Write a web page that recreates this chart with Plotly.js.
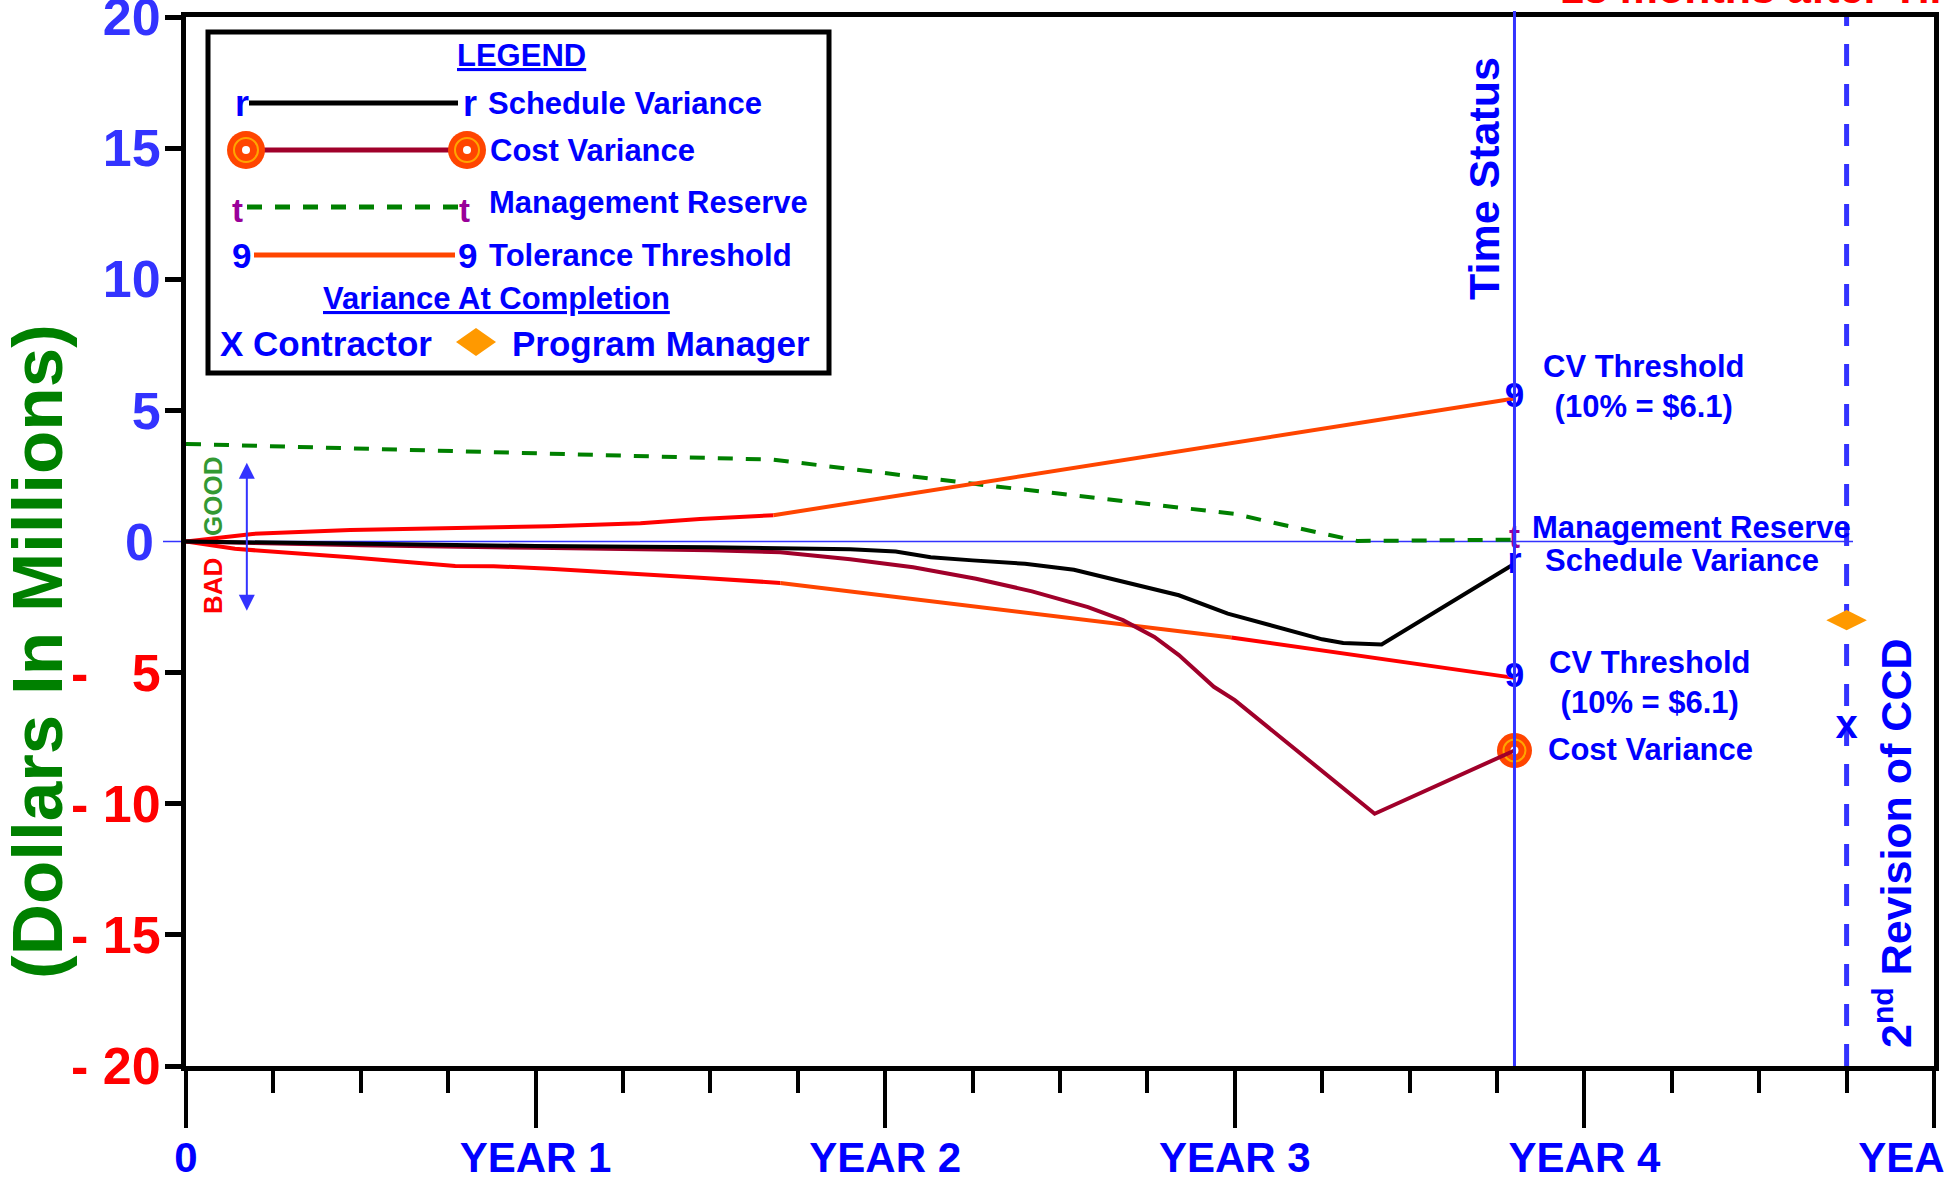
<!DOCTYPE html>
<html>
<head>
<meta charset="utf-8">
<script src="https://cdn.plot.ly/plotly-3.0.1.min.js"></script>
<style>
  html, body { margin: 0; padding: 0; background: #ffffff; }
  #chart { width: 1944px; height: 1178px; }
</style>
</head>
<body>
<div id="chart"></div>
<script>
// ---- Axis ticks (time in years, dollars in millions) ----
const YEAR_TICKS = [0, 1, 2, 3, 4, 5];
const YEAR_LABELS = ['0', 'YEAR 1', 'YEAR 2', 'YEAR 3', 'YEAR 4', 'YEAR 5'];
const DOLLAR_TICKS = [-20, -15, -10, -5, 5, 10, 15, 20];

// ---- Schedule Variance ----
const SV_T = [0, 0.5, 1.0, 1.5, 1.9, 2.03, 2.13, 2.25, 2.4, 2.54, 2.68, 2.84, 2.98, 3.06, 3.2, 3.25, 3.31, 3.42, 3.8];
const SV_V = [0, -0.1, -0.17, -0.22, -0.3, -0.38, -0.6, -0.72, -0.85, -1.08, -1.55, -2.05, -2.75, -3.04, -3.51, -3.73, -3.87, -3.93, -0.85];

// ---- Cost Variance ----
const CV_T = [0, 0.5, 1.0, 1.5, 1.7, 1.9, 2.08, 2.26, 2.42, 2.58, 2.68, 2.77, 2.84, 2.94, 3.0, 3.4, 3.8];
const CV_V = [0, -0.14, -0.24, -0.33, -0.41, -0.68, -0.98, -1.42, -1.9, -2.5, -3.0, -3.64, -4.33, -5.54, -6.05, -10.38, -7.97];

// ---- Management Reserve ----
const MR_T = [0, 1.04, 1.68, 2.26, 3.0, 3.15, 3.35, 3.8];
const MR_V = [3.72, 3.33, 3.12, 2.19, 1.05, 0.6, 0.02, 0.07];

// ---- Tolerance thresholds (upper and lower, drawn in coloured pieces) ----
const TOL_UP_A_T = [0, 0.19, 0.47, 0.76, 1.04, 1.3, 1.47, 1.68];
const TOL_UP_A_V = [0, 0.29, 0.44, 0.53, 0.58, 0.7, 0.86, 1.0];
const TOL_UP_B_T = [1.68, 3.8];
const TOL_UP_B_V = [1.0, 5.45];

const TOL_LO_A_T = [0, 0.14, 0.47, 0.77, 0.88, 1.04, 1.47, 1.70];
const TOL_LO_A_V = [0, -0.28, -0.6, -0.93, -0.94, -1.04, -1.38, -1.58];
const TOL_LO_B_T = [1.70, 2.99];
const TOL_LO_B_V = [-1.58, -3.66];
const TOL_LO_C_T = [2.99, 3.8];
const TOL_LO_C_V = [-3.66, -5.2];

// ---- Status dates and variance-at-completion estimates ----
const TIME_STATUS = 3.8;
const REVISION = 4.75;
const VAC_CONTRACTOR = -7.1;
const VAC_PROGRAM_MANAGER = -3.0;

// ---- Styling ----
const FAM = 'Liberation Sans, Arial, Helvetica, sans-serif';
const BLUE = '#0000FF';
const LIGHT_BLUE = '#3333FF';
const RED = '#FF0000';
const ORANGE_RED = '#FF4500';
const DARK_RED = '#A0002A';
const GREEN = '#008000';
const PURPLE = '#990099';
const GOLD = '#FF9900';

// Plot-area geometry in page pixels, used to place the decorations
const L = 186, T = 17, W = 1748, H = 1049;
const PX = x => (x - L) / W;
const PY = y => (T + H - y) / H;
const font = (size, color) => ({ family: FAM, size: size, color: color, weight: 'bold' });

const last = a => a[a.length - 1];

const dollarText = DOLLAR_TICKS.map(v => v > 0
  ? '<span style="color:' + LIGHT_BLUE + '">' + v + '</span>'
  : '<span style="color:' + RED + '">-\u00a0' + (Math.abs(v) < 10 ? '\u2007' : '') + Math.abs(v) + '</span>');

function line(x, y, color, width, dash) {
  return { x: x, y: y, type: 'scatter', mode: 'lines', hoverinfo: 'skip',
           line: { color: color, width: width, dash: dash || 'solid' } };
}
function glyph(x, y, text, size, color) {
  return { x: x, y: y, text: text, type: 'scatter', mode: 'text', hoverinfo: 'skip',
           textposition: 'middle center', textfont: font(size, color), cliponaxis: false };
}

const traces = [
  line(MR_T, MR_V, GREEN, 4, '15px,13px'),
  line(TOL_UP_A_T, TOL_UP_A_V, RED, 4),
  line(TOL_UP_B_T, TOL_UP_B_V, ORANGE_RED, 4),
  line(TOL_LO_A_T, TOL_LO_A_V, RED, 4),
  line(TOL_LO_B_T, TOL_LO_B_V, ORANGE_RED, 4),
  line(TOL_LO_C_T, TOL_LO_C_V, RED, 4),
  // cost variance end marker (concentric circles)
  { x: [last(CV_T)], y: [last(CV_V)], type: 'scatter', mode: 'markers', hoverinfo: 'skip',
    marker: { symbol: 'circle', size: 35, color: ORANGE_RED, line: { width: 0 } } },
  { x: [last(CV_T)], y: [last(CV_V)], type: 'scatter', mode: 'markers', hoverinfo: 'skip',
    marker: { symbol: 'circle-open', size: 22, color: '#FFA500', line: { width: 2, color: '#FFA500' } } },
  { x: [last(CV_T)], y: [last(CV_V)], type: 'scatter', mode: 'markers', hoverinfo: 'skip',
    marker: { symbol: 'circle', size: 8, color: '#FFFFFF', line: { width: 0 } } },
  line(CV_T, CV_V, DARK_RED, 4),
  line(SV_T, SV_V, '#000000', 4),
  // end-of-line glyphs at the time status
  glyph([last(TOL_UP_B_T), last(TOL_LO_C_T)], [last(TOL_UP_B_V), last(TOL_LO_C_V)], ['9', '9'], 35, BLUE),
  glyph([last(SV_T)], [last(SV_V)], ['r'], 36, BLUE),
  glyph([last(MR_T)], [last(MR_V)], ['t'], 33, PURPLE),
  // variance at completion estimates
  glyph([REVISION], [VAC_CONTRACTOR], ['x'], 40, BLUE),
  { x: [REVISION], y: [VAC_PROGRAM_MANAGER], type: 'scatter', mode: 'markers', hoverinfo: 'skip',
    marker: { symbol: 'diamond-wide', size: 29, color: GOLD, line: { width: 0 } }, cliponaxis: false }
];

const shapes = [
  // zero reference line
  { type: 'line', xref: 'paper', yref: 'y', x0: PX(163), x1: PX(1853), y0: 0, y1: 0,
    line: { color: LIGHT_BLUE, width: 1.5 }, layer: 'below' },
  // revision of CCD
  { type: 'line', xref: 'x', yref: 'paper', x0: REVISION, x1: REVISION, y0: 0, y1: PY(16),
    line: { color: LIGHT_BLUE, width: 5, dash: '22px,18px' }, layer: 'below' },
  // time status
  { type: 'line', xref: 'x', yref: 'paper', x0: TIME_STATUS, x1: TIME_STATUS, y0: 0, y1: PY(11),
    line: { color: LIGHT_BLUE, width: 3 }, layer: 'above' },
  // legend frame
  { type: 'rect', xref: 'paper', yref: 'paper', x0: PX(208), x1: PX(829), y0: PY(373), y1: PY(32),
    line: { color: '#000000', width: 5 }, fillcolor: '#FFFFFF', layer: 'above' },
  // legend keys
  { type: 'line', xref: 'paper', yref: 'paper', x0: PX(249), x1: PX(458), y0: PY(103), y1: PY(103),
    line: { color: '#000000', width: 5 }, layer: 'above' },
  { type: 'line', xref: 'paper', yref: 'paper', x0: PX(246), x1: PX(467), y0: PY(150), y1: PY(150),
    line: { color: DARK_RED, width: 5 }, layer: 'above' },
  { type: 'line', xref: 'paper', yref: 'paper', x0: PX(247), x1: PX(458), y0: PY(207), y1: PY(207),
    line: { color: GREEN, width: 5, dash: '15px,13px' }, layer: 'above' },
  { type: 'line', xref: 'paper', yref: 'paper', x0: PX(254), x1: PX(455), y0: PY(255), y1: PY(255),
    line: { color: ORANGE_RED, width: 5 }, layer: 'above' }
];
[246, 467].forEach(cx => {
  shapes.push({ type: 'circle', xref: 'paper', yref: 'paper', x0: PX(cx - 19), x1: PX(cx + 19),
    y0: PY(150 + 19), y1: PY(150 - 19), fillcolor: ORANGE_RED, line: { width: 0 }, layer: 'above' });
  shapes.push({ type: 'circle', xref: 'paper', yref: 'paper', x0: PX(cx - 12), x1: PX(cx + 12),
    y0: PY(150 + 12), y1: PY(150 - 12), line: { color: '#FFA500', width: 2 }, layer: 'above' });
  shapes.push({ type: 'circle', xref: 'paper', yref: 'paper', x0: PX(cx - 4), x1: PX(cx + 4),
    y0: PY(150 + 4), y1: PY(150 - 4), fillcolor: '#FFFFFF', line: { width: 0 }, layer: 'above' });
});
// legend diamond
shapes.push({ type: 'path', xref: 'paper', yref: 'paper', layer: 'above', fillcolor: GOLD, line: { width: 0 },
  path: 'M' + PX(456) + ',' + PY(342) + 'L' + PX(476) + ',' + PY(328) + 'L' + PX(496) + ',' + PY(342) +
        'L' + PX(476) + ',' + PY(356) + 'Z' });

function note(text, x, y, size, color, extra) {
  return Object.assign({ xref: 'paper', yref: 'paper', x: PX(x), y: PY(y), text: text, showarrow: false,
    font: font(size, color), xanchor: 'center', yanchor: 'middle', align: 'center' }, extra || {});
}

const annotations = [
  note('(Dollars In Millions)', 37, 652, 71, GREEN, { textangle: -90 }),
  { xref: 'paper', yref: 'y', x: PX(156), y: 0, text: '0', showarrow: false, xanchor: 'right', yanchor: 'middle',
    font: font(52, LIGHT_BLUE) },
  // legend
  note('<u>LEGEND</u>', 521, 55, 31, BLUE),
  note('r', 242, 103, 36, BLUE), note('r', 470, 103, 36, BLUE),
  note('Schedule Variance', 486, 103, 31, BLUE, { xanchor: 'left' }),
  note('Cost Variance', 488, 150, 31, BLUE, { xanchor: 'left' }),
  note('t', 237, 210, 33, PURPLE), note('t', 464, 210, 33, PURPLE),
  note('Management Reserve', 487, 203, 31, BLUE, { xanchor: 'left' }),
  note('9', 241, 255, 35, BLUE), note('9', 467, 255, 35, BLUE),
  note('Tolerance Threshold', 487, 255, 31, BLUE, { xanchor: 'left' }),
  note('<u>Variance At Completion</u>', 496, 298, 31, BLUE),
  note('X Contractor', 218, 343, 35, BLUE, { xanchor: 'left' }),
  note('Program Manager', 510, 343, 35, BLUE, { xanchor: 'left' }),
  // right-hand labels
  note('Time Status', 1484, 179, 43, BLUE, { textangle: -90 }),
  note('CV Threshold<br>(10% = $6.1)', 1644, 386, 31, BLUE),
  note('Management Reserve', 1530, 527, 31, BLUE, { xanchor: 'left' }),
  note('Schedule Variance', 1543, 560, 31, BLUE, { xanchor: 'left' }),
  note('CV Threshold<br>(10% = $6.1)', 1650, 682, 31, BLUE),
  note('Cost Variance', 1546, 749, 31, BLUE, { xanchor: 'left' }),
  note('2<sup>nd</sup> Revision of CCD', 1893, 843, 43, BLUE, { textangle: -90 }),
  note('18 months after Time Status', 1558, 14, 43, RED, { xanchor: 'left', yanchor: 'bottom' }),
  // good / bad direction
  note('GOOD', 213, 497, 26, '#339933', { textangle: -90 }),
  note('BAD', 213, 586, 26, RED, { textangle: -90 }),
  { xref: 'x', yref: 'y', axref: 'x', ayref: 'y', x: 0.174, y: 3.0, ax: 0.174, ay: -2.7, text: '',
    showarrow: true, arrowside: 'end+start', arrowhead: 2, startarrowhead: 2, arrowwidth: 2,
    arrowsize: 1.6, startarrowsize: 1.6, arrowcolor: LIGHT_BLUE, standoff: 0, startstandoff: 0 }
];

const layout = {
  width: 1944, height: 1178,
  margin: { l: L, r: 1944 - L - W, t: T, b: 1178 - T - H, pad: 0 },
  paper_bgcolor: '#FFFFFF', plot_bgcolor: '#FFFFFF',
  showlegend: false, hovermode: false,
  font: { family: FAM },
  xaxis: {
    range: [0, 5], tickmode: 'array', tickvals: YEAR_TICKS, ticktext: YEAR_LABELS,
    ticks: 'outside', ticklen: 57, tickwidth: 4, tickcolor: '#000000',
    tickfont: font(42, BLUE), ticklabelstandoff: -6, ticklabeloverflow: 'allow',
    showline: true, linewidth: 5, linecolor: '#000000', mirror: true,
    showgrid: false, zeroline: false, fixedrange: true,
    minor: { tickmode: 'linear', tick0: 0, dtick: 0.25, ticks: 'outside', ticklen: 22,
             tickwidth: 4, tickcolor: '#000000', showgrid: false }
  },
  yaxis: {
    range: [-20, 20], tickmode: 'array', tickvals: DOLLAR_TICKS, ticktext: dollarText,
    ticks: 'outside', ticklen: 16, tickwidth: 5, tickcolor: '#000000',
    tickfont: font(52, LIGHT_BLUE), ticklabelstandoff: -6, ticklabeloverflow: 'allow',
    showline: true, linewidth: 5, linecolor: '#000000', mirror: true,
    showgrid: false, zeroline: false, fixedrange: true
  },
  shapes: shapes,
  annotations: annotations
};

Plotly.newPlot('chart', traces, layout, { displayModeBar: false, staticPlot: true });
</script>
</body>
</html>
